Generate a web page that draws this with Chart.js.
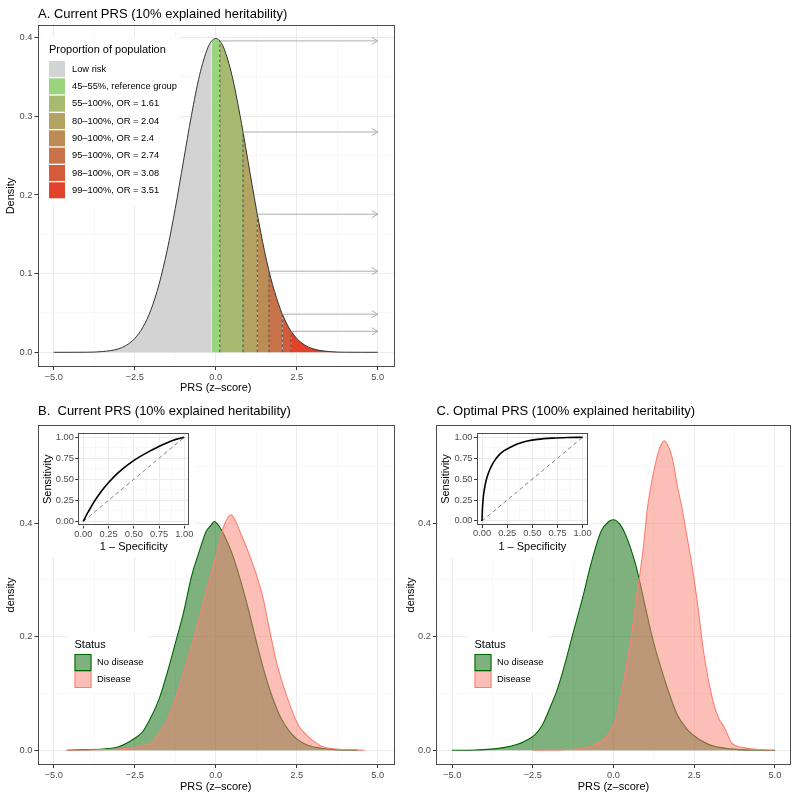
<!DOCTYPE html>
<html>
<head>
<meta charset="utf-8">
<script src="https://cdn.jsdelivr.net/npm/chart.js@4.4.1/dist/chart.umd.min.js"></script>
<style>
  body { margin: 0; background: #fff; }
  #wrap { position: relative; width: 800px; height: 800px; }
  canvas { position: absolute; }
  .inset { background: #fff; }
</style>
</head>
<body>
<div id="wrap">
  <!-- insets sit under the main panels; the panels clear a hole for them so the densities draw on top -->
  <canvas id="rocB" class="inset" width="156" height="132" style="left:39px;top:426px"></canvas>
  <canvas id="rocC" class="inset" width="156" height="132" style="left:437px;top:426px"></canvas>
  <canvas id="chartA" width="400" height="395" style="left:0;top:0"></canvas>
  <canvas id="chartB" width="400" height="405" style="left:0;top:395px"></canvas>
  <canvas id="chartC" width="400" height="405" style="left:400px;top:395px"></canvas>
</div>
<script>
// ---- panel A: PRS density split into risk groups ----
const prsX = [-5, -4.5, -4, -3.5, -3, -2.75, -2.5, -2.25, -2, -1.75, -1.5, -1.25, -1, -0.75, -0.5, -0.25, -0.126, 0, 0.126, 0.25,
              0.5, 0.75, 0.842, 1, 1.25, 1.282, 1.5, 1.645, 1.75, 2, 2.054, 2.25, 2.326, 2.5, 2.75, 3, 3.5, 4, 4.5, 5];
const prsDensity = [0, 0, 0.0001, 0.0009, 0.0044, 0.0091, 0.0175, 0.0317, 0.0540, 0.0863, 0.1295, 0.1826, 0.2420, 0.3011, 0.3521, 0.3867, 0.3958, 0.3989, 0.3958, 0.3867,
                    0.3521, 0.3011, 0.2800, 0.2420, 0.1826, 0.1755, 0.1295, 0.1031, 0.0863, 0.0540, 0.0484, 0.0317, 0.0267, 0.0175, 0.0091, 0.0044, 0.0009, 0.0001, 0, 0];

const bandLabels = ['Low risk', '45–55%, reference group', '55–100%, OR = 1.61', '80–100%, OR = 2.04',
                    '90–100%, OR = 2.4', '95–100%, OR = 2.74', '98–100%, OR = 3.08', '99–100%, OR = 3.51'];
const bandFrom = [-5, -0.126, 0.126, 0.842, 1.282, 1.645, 2.054, 2.326];
const bandTo = [-0.126, 0.126, 0.842, 1.282, 1.645, 2.054, 2.326, 5];
const bandColors = ['#d3d3d3', '#98d57c', '#a6bb70', '#b3a464', '#bd8c56', '#c87349', '#d55c3b', '#e2412a'];

const cutX = [0.126, 0.842, 1.282, 1.645, 2.054, 2.326];
const cutDensity = [0.3958, 0.2800, 0.1755, 0.1031, 0.0484, 0.0267];
const arrowEndX = 5;

// ---- panel B: current PRS, densities by status ----
const bNoX = [-4.6, -4, -3.5, -3, -2.5, -2.25, -2, -1.75, -1.5, -1.25, -1, -0.75, -0.5, -0.3, -0.15, -0.05, 0.1, 0.25, 0.5, 0.75,
              1, 1.25, 1.5, 1.75, 2, 2.25, 2.5, 2.75, 3, 3.5, 4, 4.4];
const bNoY = [0, 0.001, 0.002, 0.006, 0.021, 0.033, 0.058, 0.090, 0.136, 0.188, 0.241, 0.306, 0.352, 0.385, 0.396, 0.403, 0.395, 0.380, 0.347, 0.302,
              0.250, 0.192, 0.138, 0.093, 0.058, 0.035, 0.020, 0.011, 0.006, 0.002, 0.0005, 0];
const bDisX = [-4.6, -4, -3.5, -3, -2.5, -2.25, -2, -1.75, -1.5, -1.25, -1, -0.75, -0.5, -0.25, 0, 0.25, 0.48, 0.6, 0.75, 1,
               1.25, 1.46, 1.67, 1.87, 2.18, 2.54, 2.8, 3, 3.31, 3.75, 4.2, 4.6];
const bDisY = [0, 0.0003, 0.001, 0.002, 0.005, 0.008, 0.013, 0.030, 0.053, 0.090, 0.136, 0.183, 0.235, 0.290, 0.340, 0.395, 0.415, 0.405, 0.385, 0.350,
               0.310, 0.268, 0.209, 0.156, 0.097, 0.045, 0.027, 0.017, 0.006, 0.002, 0.0005, 0];

// ---- panel C: optimal PRS, densities by status ----
const cNoX = [-5, -4.3, -3.8, -3.37, -3, -2.75, -2.44, -2.2, -1.93, -1.75, -1.57, -1.26, -0.95, -0.7, -0.39, -0.15, 0, 0.2, 0.38, 0.69,
              0.95, 1.21, 1.57, 1.98, 2.3, 2.6, 3, 3.3, 3.8, 4.4, 5];
const cNoY = [0, 0.0005, 0.002, 0.005, 0.010, 0.016, 0.027, 0.045, 0.080, 0.106, 0.139, 0.205, 0.270, 0.328, 0.385, 0.403, 0.406, 0.398, 0.379, 0.326,
              0.262, 0.197, 0.127, 0.062, 0.036, 0.021, 0.009, 0.005, 0.0015, 0.0003, 0];
const cDisX = [-2.5, -1.5, -1, -0.7, -0.4, -0.18, 0, 0.13, 0.33, 0.54, 0.74, 0.9, 1.06, 1.2, 1.32, 1.45, 1.58, 1.7, 1.82, 1.99,
               2.13, 2.25, 2.39, 2.5, 2.6, 2.8, 3.06, 3.26, 3.42, 3.67, 4, 4.34, 4.96];
const cDisY = [0, 0.001, 0.003, 0.007, 0.015, 0.027, 0.045, 0.068, 0.127, 0.197, 0.280, 0.345, 0.430, 0.478, 0.510, 0.535, 0.545, 0.535, 0.515, 0.462,
               0.425, 0.385, 0.340, 0.300, 0.260, 0.170, 0.092, 0.056, 0.042, 0.012, 0.005, 0.002, 0];

// ---- ROC insets ----
const rocBFpr = [0, 0.02, 0.05, 0.1, 0.15, 0.2, 0.257, 0.32, 0.39, 0.46, 0.52, 0.59, 0.653, 0.72, 0.785, 0.85, 0.917, 1];
const rocBTpr = [0, 0.05, 0.115, 0.22, 0.31, 0.39, 0.47, 0.55, 0.625, 0.69, 0.74, 0.79, 0.832, 0.873, 0.91, 0.944, 0.975, 1];
const rocCFpr = [0, 0.003, 0.008, 0.015, 0.025, 0.04, 0.06, 0.08, 0.1, 0.13, 0.17, 0.22, 0.28, 0.35, 0.45, 0.55, 0.7, 0.85, 1];
const rocCTpr = [0, 0.12, 0.22, 0.31, 0.39, 0.48, 0.56, 0.62, 0.67, 0.73, 0.79, 0.84, 0.88, 0.92, 0.955, 0.975, 0.99, 0.997, 1];
const chanceX = [0, 1];
const chanceY = [0, 1];

// ---- ticks ----
const xMajor = [-5, -2.5, 0, 2.5, 5];
const xMinor = [-3.75, -1.25, 1.25, 3.75];
const yMajorA = [0, 0.1, 0.2, 0.3, 0.4];
const yMinorA = [0.05, 0.15, 0.25, 0.35];
const yMajorBC = [0, 0.2, 0.4];
const yMinorBC = [0.1, 0.3, 0.5];
const rocMajor = [0, 0.25, 0.5, 0.75, 1];
const rocMinor = [0.125, 0.375, 0.625, 0.875];

const FONT = '"Liberation Sans", Arial, Helvetica, sans-serif';
Chart.defaults.font.family = FONT;

function points(xs, ys) {
  return xs.map((x, i) => ({ x: x, y: ys[i] }));
}
function isIn(list, v) {
  return list.some(m => Math.abs(m - v) < 1e-9);
}
function fmt(v, d) {
  const s = Math.abs(v).toFixed(d);
  return v < -1e-9 ? '\u2212' + s : s;
}

function axis(o) {
  const all = o.major.concat(o.minor).sort((a, b) => a - b);
  const major = c => c.tick && isIn(o.major, c.tick.value);
  return {
    type: 'linear', min: o.min, max: o.max, bounds: 'data',
    afterBuildTicks: s => { s.ticks = all.map(v => ({ value: v })); },
    afterFit: s => { if (o.horizontal) s.height = o.size; else s.width = o.size; },
    border: { display: false },
    grid: {
      color: c => major(c) ? '#ebebeb' : '#f3f3f3',
      lineWidth: c => major(c) ? 1 : 0.6,
      tickColor: c => major(c) ? '#333333' : 'rgba(0,0,0,0)',
      tickLength: 3
    },
    ticks: {
      autoSkip: false, maxRotation: 0, minRotation: 0, padding: o.tickPad,
      color: '#4d4d4d', font: { size: 9.3 },
      callback: v => isIn(o.major, v) ? fmt(v, o.decimals) : ''
    },
    title: { display: true, text: o.title, color: '#000', font: { size: 11 }, padding: o.titlePad }
  };
}

// hole for the inset and legend drawn inside the panel, on a white box
const boxLegend = {
  id: 'boxLegend',
  beforeDatasetsDraw(chart, args, o) {
    const ctx = chart.ctx;
    if (o.hole) ctx.clearRect(o.hole[0], o.hole[1], o.hole[2], o.hole[3]);
    if (!o.box) return;
    const items = chart.data.datasets.filter(d => d.inLegend);
    ctx.save();
    ctx.fillStyle = '#fff';
    ctx.fillRect(o.box[0], o.box[1], o.box[2], o.box[3]);
    ctx.fillStyle = '#000';
    ctx.font = '11px ' + FONT;
    ctx.textBaseline = 'alphabetic';
    ctx.fillText(o.title, o.titleX, o.titleY);
    ctx.font = '9.3px ' + FONT;
    ctx.textBaseline = 'middle';
    items.forEach((d, i) => {
      const top = o.keyTop + i * o.rowH;
      ctx.fillStyle = d.backgroundColor;
      ctx.fillRect(o.keyX, top, o.keySize, o.keySize);
      if (o.keyBorder) {
        ctx.strokeStyle = d.borderColor;
        ctx.lineWidth = 1;
        ctx.strokeRect(o.keyX + 0.5, top + 0.5, o.keySize - 1, o.keySize - 1);
      }
      ctx.fillStyle = '#000';
      ctx.fillText(d.label, o.labelX, top + o.keySize / 2);
    });
    ctx.restore();
  }
};

// arrow heads, panel border and panel title
const decor = {
  id: 'decor',
  afterDatasetsDraw(chart) {
    const ctx = chart.ctx;
    chart.data.datasets.forEach((d, i) => {
      if (!d.arrow) return;
      const pts = chart.getDatasetMeta(i).data;
      const tip = pts[pts.length - 1];
      ctx.save();
      ctx.strokeStyle = d.borderColor;
      ctx.lineWidth = 1;
      ctx.beginPath();
      ctx.moveTo(tip.x - 6, tip.y - 3.5);
      ctx.lineTo(tip.x, tip.y);
      ctx.lineTo(tip.x - 6, tip.y + 3.5);
      ctx.stroke();
      ctx.restore();
    });
  },
  afterDraw(chart, args, o) {
    const ctx = chart.ctx;
    const a = chart.chartArea;
    ctx.save();
    ctx.strokeStyle = '#4d4d4d';
    ctx.lineWidth = 1;
    ctx.strokeRect(Math.round(a.left) + 0.5, Math.round(a.top) + 0.5, Math.round(a.right - a.left) - 1, Math.round(a.bottom - a.top) - 1);
    if (o.title) {
      ctx.fillStyle = '#000';
      ctx.font = '13px ' + FONT;
      ctx.textBaseline = 'alphabetic';
      ctx.fillText(o.title, a.left + 0.5, o.titleY);
    }
    ctx.restore();
  }
};

function baseOptions(area, w, h) {
  return {
    responsive: false,
    animation: false,
    events: [],
    layout: { autoPadding: false, padding: { left: 0, top: area.top, right: w - area.right, bottom: 0 } },
    plugins: { legend: { display: false }, tooltip: { enabled: false } }
  };
}

// ---------- chart A ----------
const curveA = points(prsX, prsDensity);
const bandSets = bandLabels.map((lab, i) => ({
  label: lab,
  inLegend: true,
  data: curveA.filter(p => p.x >= bandFrom[i] - 1e-9 && p.x <= bandTo[i] + 1e-9),
  showLine: true, fill: 'origin', backgroundColor: bandColors[i], borderWidth: 0,
  pointRadius: 0, cubicInterpolationMode: 'monotone', order: 5
}));
const dashSets = cutX.map((x, i) => ({
  label: 'cut ' + x,
  data: [{ x: x, y: 0 }, { x: x, y: cutDensity[i] }],
  showLine: true, borderColor: '#4d4d4d', borderWidth: 1, borderDash: [3, 2], pointRadius: 0, order: 2
}));
const arrowSets = cutX.map((x, i) => ({
  label: 'arrow ' + x,
  arrow: true,
  data: [{ x: x, y: cutDensity[i] }, { x: arrowEndX, y: cutDensity[i] }],
  showLine: true, borderColor: '#adadad', borderWidth: 1, pointRadius: 0, order: 0
}));

const areaA = { left: 37.5, right: 394, top: 25, bottom: 367 };
const optA = baseOptions(areaA, 400, 395);
optA.scales = {
  x: axis({ major: xMajor, minor: xMinor, min: -5.5, max: 5.5, decimals: 1, horizontal: true, size: 395 - areaA.bottom, tickPad: 2, title: 'PRS (z–score)', titlePad: 0 }),
  y: axis({ major: yMajorA, minor: yMinorA, min: -0.0187, max: 0.416, decimals: 1, size: areaA.left, tickPad: 2, title: 'Density', titlePad: 4.5 })
};
optA.plugins.decor = { title: 'A. Current PRS (10% explained heritability)', titleY: 17.5 };
optA.plugins.boxLegend = {
  box: [41, 37, 138, 168], title: 'Proportion of population', titleX: 49, titleY: 52.5,
  keyX: 49, keyTop: 61, keySize: 16, rowH: 17.33, labelX: 72, keyBorder: false
};
new Chart(document.getElementById('chartA'), {
  type: 'scatter',
  data: {
    datasets: bandSets.concat([{
      label: 'density', data: curveA, showLine: true, fill: false, borderColor: '#333333', borderWidth: 1,
      pointRadius: 0, cubicInterpolationMode: 'monotone', order: 1
    }], dashSets, arrowSets)
  },
  options: optA,
  plugins: [boxLegend, decor]
});

// ---------- charts B and C ----------
function statusChart(id, title, noX, noY, disX, disY, area, hole) {
  const opt = baseOptions(area, 400, 405);
  opt.scales = {
    x: axis({ major: xMajor, minor: xMinor, min: -5.5, max: 5.5, decimals: 1, horizontal: true, size: 405 - area.bottom, tickPad: 2, title: 'PRS (z–score)', titlePad: 6 }),
    y: axis({ major: yMajorBC, minor: yMinorBC, min: -0.026, max: 0.573, decimals: 1, size: area.left, tickPad: 2, title: 'density', titlePad: 4.5 })
  };
  opt.plugins.decor = { title: title, titleY: 19.5 };
  opt.plugins.boxLegend = {
    hole: hole,
    box: [68, 237, 80, 60], title: 'Status', titleX: 74.5, titleY: 253,
    keyX: 74.5, keyTop: 259, keySize: 17, rowH: 17, labelX: 97, keyBorder: true
  };
  new Chart(document.getElementById(id), {
    type: 'scatter',
    data: {
      datasets: [
        { label: 'No disease', inLegend: true, data: points(noX, noY), showLine: true, fill: 'origin',
          borderColor: '#006400', backgroundColor: 'rgba(0,100,0,0.5)', borderWidth: 1.1,
          pointRadius: 0, cubicInterpolationMode: 'monotone', order: 2 },
        { label: 'Disease', inLegend: true, data: points(disX, disY), showLine: true, fill: 'origin',
          borderColor: '#fa8072', backgroundColor: 'rgba(250,128,114,0.5)', borderWidth: 1.1,
          pointRadius: 0, cubicInterpolationMode: 'monotone', order: 1 }
      ]
    },
    options: opt,
    plugins: [boxLegend, decor]
  });
}
statusChart('chartB', 'B.  Current PRS (10% explained heritability)', bNoX, bNoY, bDisX, bDisY,
  { left: 37.5, right: 394, top: 30, bottom: 370 }, [39, 31, 156, 132]);
statusChart('chartC', 'C. Optimal PRS (100% explained heritability)', cNoX, cNoY, cDisX, cDisY,
  { left: 36, right: 391, top: 30, bottom: 370 }, [37, 31, 156, 132]);

// ---------- ROC insets ----------
function rocChart(id, fpr, tpr, area) {
  const opt = baseOptions(area, 156, 132);
  opt.scales = {
    x: axis({ major: rocMajor, minor: rocMinor, min: -0.05, max: 1.05, decimals: 2, horizontal: true, size: 132 - area.bottom, tickPad: 0, title: '1 – Specificity', titlePad: 4.7 }),
    y: axis({ major: rocMajor, minor: rocMinor, min: -0.05, max: 1.05, decimals: 2, size: area.left, tickPad: 1.5, title: 'Sensitivity', titlePad: 2.5 })
  };
  opt.plugins.decor = {};
  new Chart(document.getElementById(id), {
    type: 'scatter',
    data: {
      datasets: [
        { label: 'ROC', data: points(fpr, tpr), showLine: true, borderColor: '#000', borderWidth: 1.6,
          pointRadius: 0, cubicInterpolationMode: 'monotone', order: 1 },
        { label: 'chance', data: points(chanceX, chanceY), showLine: true, borderColor: '#7f7f7f', borderWidth: 1,
          borderDash: [4, 3], pointRadius: 0, order: 2 }
      ]
    },
    options: opt,
    plugins: [decor]
  });
}
rocChart('rocB', rocBFpr, rocBTpr, { left: 39.3, right: 150.3, top: 1, bottom: 99.5 });
rocChart('rocC', rocCFpr, rocCTpr, { left: 40, right: 150.7, top: 2, bottom: 99.1 });
</script>
</body>
</html>
